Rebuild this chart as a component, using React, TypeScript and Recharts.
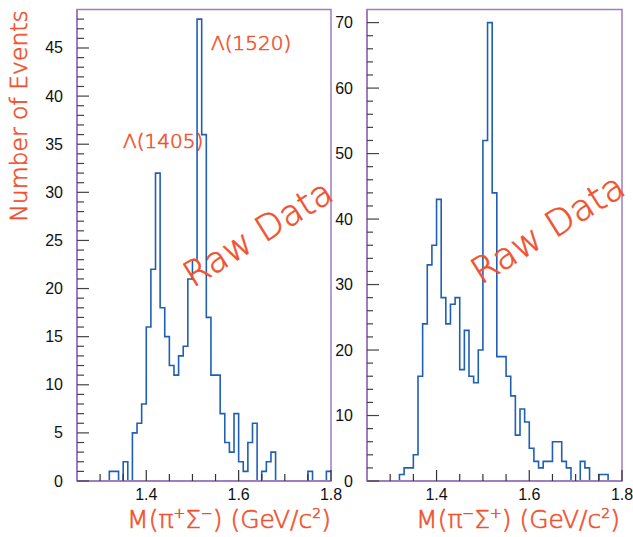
import React from "react";
import { LineChart, Line, XAxis, YAxis, ReferenceArea } from "recharts";

// bin lower edges (last value is the upper edge of the final bin)
const binEdges = [
  1.25, 1.26, 1.27, 1.28, 1.29, 1.3, 1.31, 1.32, 1.33, 1.34,
  1.35, 1.36, 1.37, 1.38, 1.39, 1.4, 1.41, 1.42, 1.43, 1.44,
  1.45, 1.46, 1.47, 1.48, 1.49, 1.5, 1.51, 1.52, 1.53, 1.54,
  1.55, 1.56, 1.57, 1.58, 1.59, 1.6, 1.61, 1.62, 1.63, 1.64,
  1.65, 1.66, 1.67, 1.68, 1.69, 1.7, 1.71, 1.72, 1.73, 1.74,
  1.75, 1.76, 1.77, 1.78, 1.79, 1.8,
];

const piPlusSigmaMinus = [
  0, 0, 0, 0, 0, 0, 0, 1, 1, 0,
  2, 0, 5, 6, 8, 16, 22, 32, 18, 15,
  12, 11, 13, 14, 21, 23, 48, 36, 17, 11,
  11, 7, 4, 3, 7, 2, 1, 4, 6, 0,
  1, 2, 3, 0, 0, 0, 0, 0, 0, 0,
  1, 0, 0, 0, 1,
];

const piMinusSigmaPlus = [
  0, 0, 0, 0, 0, 0, 0, 1, 2, 2,
  4, 16, 24, 33, 36, 43, 28, 24, 27, 28,
  17, 23, 16, 15, 20, 52, 70, 44, 19, 19,
  16, 13, 7, 11, 9, 5, 3, 2, 3, 3,
  6, 6, 3, 2, 0, 0, 3, 2, 0, 0,
  1, 1, 0, 0, 0,
];

const xTicks = [1.3, 1.35, 1.4, 1.45, 1.5, 1.55, 1.6, 1.65, 1.7, 1.75, 1.8];
const xLabelled = [1.4, 1.6, 1.8];

const leftYTicks = Array.from({ length: 49 }, (_, i) => i);
const leftYLabelled = [0, 5, 10, 15, 20, 25, 30, 35, 40, 45];
const rightYTicks = Array.from({ length: 36 }, (_, i) => i * 2);
const rightYLabelled = [0, 10, 20, 30, 40, 50, 60, 70];

const BLUE = "#1f5fb4";
const RED = "#f2502c";
const FRAME = "#a07cc0";
const FONT = "'Liberation Sans', Arial, sans-serif";
const THIN = "'DejaVu Sans', sans-serif";

const isIn = (list: number[], v: number) => list.some((l) => Math.abs(l - v) < 1e-6);

const XTick = (props: any) => {
  const { x, y, payload } = props;
  const major = isIn(xLabelled, payload.value);
  return (
    <g>
      <line x1={x} x2={x} y1={y} y2={y - (major ? 11 : 7)} stroke="#333" strokeWidth={1.2} />
      {major && (
        <text x={x} y={y + 19} textAnchor="middle" fontSize={16} fontFamily={FONT} fill="#111">
          {payload.value.toFixed(1)}
        </text>
      )}
    </g>
  );
};

const makeYTick = (labelled: number[], minorLen: number) => (props: any) => {
  const { x, y, payload } = props;
  const major = isIn(labelled, payload.value);
  return (
    <g>
      <line x1={x} x2={x + (major ? 12 : minorLen)} y1={y} y2={y} stroke="#444" strokeWidth={1.2} />
      {major && (
        <text x={x - 14} y={y + 5.5} textAnchor="end" fontSize={16} fontFamily={FONT} fill="#111">
          {payload.value}
        </text>
      )}
    </g>
  );
};

type PanelProps = {
  counts: number[];
  left: number;
  width: number;
  marginRight: number;
  yMax: number;
  yTicks: number[];
  yLabelled: number[];
  minorLen: number;
};

const Panel = ({ counts, left, width, marginRight, yMax, yTicks, yLabelled, minorLen }: PanelProps) => {
  const data = binEdges.map((edge, i) => ({ m: edge, n: counts[Math.min(i, counts.length - 1)] }));
  return (
    <div style={{ position: "absolute", left, top: 0 }}>
      <LineChart
        width={width}
        height={537}
        data={data}
        margin={{ top: 9.5, right: marginRight, bottom: 26, left: 37 }}
      >
        <XAxis
          dataKey="m"
          type="number"
          domain={[1.25, 1.8]}
          ticks={xTicks}
          interval={0}
          tickSize={0}
          tickMargin={0}
          tickLine={false}
          axisLine={{ stroke: FRAME, strokeWidth: 2 }}
          height={30}
          allowDataOverflow
          tick={(p: any) => <XTick {...p} />}
        />
        <YAxis
          type="number"
          domain={[0, yMax]}
          ticks={yTicks}
          interval={0}
          tickSize={0}
          tickMargin={0}
          tickLine={false}
          axisLine={{ stroke: FRAME, strokeWidth: 2 }}
          width={40}
          allowDataOverflow
          tick={makeYTick(yLabelled, minorLen)}
        />
        <ReferenceArea
          x1={1.25}
          x2={1.8}
          y1={0}
          y2={yMax}
          fill="none"
          stroke={FRAME}
          strokeWidth={1.5}
          ifOverflow="visible"
        />
        <Line
          type="stepAfter"
          dataKey="n"
          stroke={BLUE}
          strokeWidth={1.6}
          dot={false}
          isAnimationActive={false}
        />
      </LineChart>
    </div>
  );
};

const redText = {
  fontWeight: 200,
  fontFamily: THIN,
  fill: RED,
  stroke: RED,
  strokeWidth: 0.6,
};

const MassLabel = ({ x, a, b }: { x: number; a: string; b: string }) => (
  <text x={x} y={528} textAnchor="middle" fontSize={25} {...redText}>
    M(π
    <tspan dy={-10} fontSize={14}>{a}</tspan>
    <tspan dy={10}>Σ</tspan>
    <tspan dy={-10} fontSize={14}>{b}</tspan>
    <tspan dy={10}>) (GeV/c</tspan>
    <tspan dy={-10} fontSize={14}>2</tspan>
    <tspan dy={10}>)</tspan>
  </text>
);

export default function App() {
  return (
    <div style={{ position: "absolute", left: 0, top: 0, width: 633, height: 537, background: "#fff" }}>
      <Panel
        counts={piPlusSigmaMinus}
        left={0}
        width={350}
        marginRight={19}
        yMax={49}
        yTicks={leftYTicks}
        yLabelled={leftYLabelled}
        minorLen={7}
      />
      <Panel
        counts={piMinusSigmaPlus}
        left={290}
        width={343}
        marginRight={11}
        yMax={72}
        yTicks={rightYTicks}
        yLabelled={rightYLabelled}
        minorLen={6}
      />
      <svg
        width={633}
        height={537}
        style={{ position: "absolute", left: 0, top: 0, pointerEvents: "none" }}
      >
        <text transform="translate(27,116) rotate(-90)" textAnchor="middle" fontSize={23.5} {...redText}>
          Number of Events
        </text>
        <text x={123} y={148} fontSize={20} {...redText}>
          Λ(1405)
        </text>
        <text x={211} y={50} fontSize={20} {...redText}>
          Λ(1520)
        </text>
        <text transform="translate(193,288) rotate(-32)" fontSize={35} {...redText}>
          Raw Data
        </text>
        <text transform="translate(481,285) rotate(-32)" fontSize={36} {...redText}>
          Raw Data
        </text>
        <MassLabel x={229} a="+" b="−" />
        <MassLabel x={518} a="−" b="+" />
      </svg>
    </div>
  );
}
